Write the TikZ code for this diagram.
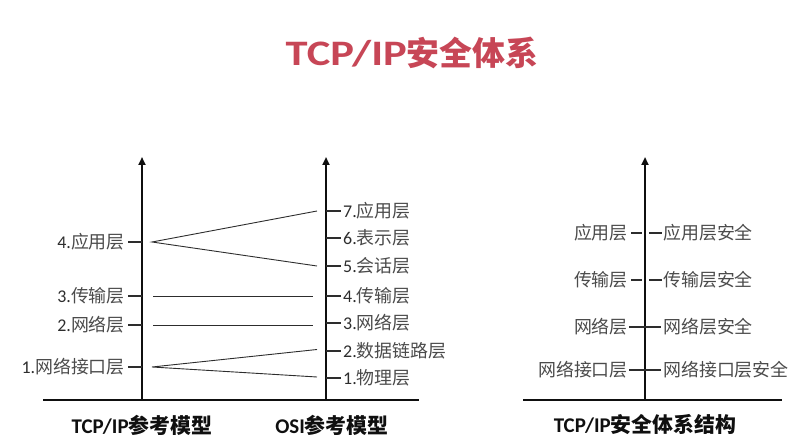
\documentclass[tikz,border=0pt]{standalone}
\usepackage{fontspec}
\usepackage{graphicx}
\setmainfont{Carlito}
\newfontfamily\cjk{Noto Sans CJK SC}
\usetikzlibrary{arrows.meta}
\definecolor{titlered}{RGB}{199,70,86}
\definecolor{txt}{RGB}{45,45,45}
\definecolor{cjktxt}{RGB}{75,75,75}
\definecolor{ax}{RGB}{15,15,15}
\newcommand{\cz}[1]{{\cjk\color{cjktxt}#1}}
\tikzset{
  axis/.style={line width=2.6bp, draw=ax, -{Triangle[length=8bp,width=7bp]}},
  baseln/.style={line width=2.6bp, draw=ax},
  tickln/.style={line width=1.3bp, draw=txt},
  linkln/.style={line width=0.9bp, draw=txt},
  lbl/.style={text=txt, font=\fontsize{18}{18}\selectfont, inner sep=0pt},
  captxt/.style={text=ax, font=\bfseries\fontsize{21}{21}\selectfont, inner sep=0pt},
  titletxt/.style={text=titlered, font=\bfseries\fontsize{36}{36}\selectfont, inner sep=0pt}
}
\begin{document}
\begin{tikzpicture}[x=1bp,y=-1bp]
\useasboundingbox (0,0) rectangle (809,438);
% title
\node[titletxt] (title) at (412,53) {\scalebox{1.24}[1]{TCP/IP}{\cjk\fontsize{33}{33}\selectfont 安全体系}};

% ---------- left diagram ----------
\coordinate (bl) at (43,400);
\coordinate (br) at (419,400);
\coordinate (lb) at (142,400);
\coordinate (lt) at (142,157);
\coordinate (rb) at (326,400);
\coordinate (rt) at (326,157);
\draw[baseln] (bl) -- (br);
\draw[axis] (lb) -- (lt);
\draw[axis] (rb) -- (rt);

% TCP/IP labels
\node[lbl, anchor=east] (t4) at (125,242) {4.\cz{应用层}};
\node[lbl, anchor=east] (t3) at (125,296) {3.\cz{传输层}};
\node[lbl, anchor=east] (t2) at (125,325) {2.\cz{网络层}};
\node[lbl, anchor=east] (t1) at (125,367) {1.\cz{网络接口层}};
\foreach \n/\y in {t4/242,t3/296,t2/325,t1/367}{
  \coordinate (\n a) at (142,\y);
  \draw[tickln] ([xshift=3bp]\n.east) -- (\n a);
}

% OSI labels
\node[lbl, anchor=west] (o7) at (343,211) {7.\cz{应用层}};
\node[lbl, anchor=west] (o6) at (343,238) {6.\cz{表示层}};
\node[lbl, anchor=west] (o5) at (343,266) {5.\cz{会话层}};
\node[lbl, anchor=west] (o4) at (343,296) {4.\cz{传输层}};
\node[lbl, anchor=west] (o3) at (343,323) {3.\cz{网络层}};
\node[lbl, anchor=west] (o2) at (343,351) {2.\cz{数据链路层}};
\node[lbl, anchor=west] (o1) at (343,378) {1.\cz{物理层}};
\foreach \n/\y in {o7/211,o6/238,o5/266,o4/296,o3/323,o2/351,o1/378}{
  \coordinate (\n a) at (326,\y);
  \draw[tickln] (\n a) -- ([xshift=-2bp]\n.west);
}

% mapping lines
\coordinate (p4) at (152,242);
\coordinate (q7) at (317,211);
\coordinate (q5) at (317,266);
\coordinate (p3) at (153,296);
\coordinate (q4) at (313,296);
\coordinate (p2) at (153,325);
\coordinate (q3) at (313,325);
\coordinate (p1) at (152,367);
\coordinate (q2) at (317,349.5);
\coordinate (q1) at (317,377);
\draw[linkln] (q7) -- (p4) -- (q5);
\draw[linkln] (p3) -- (q4);
\draw[linkln] (p2) -- (q3);
\draw[linkln] (q2) -- (p1) -- (q1);

\node[captxt] (c1) at (142,425) {TCP/IP{\cjk 参考模型}};
\node[captxt] (c2) at (332,425) {OSI{\cjk 参考模型}};

% ---------- right diagram ----------
\coordinate (sbl) at (523,400);
\coordinate (sbr) at (782,400);
\coordinate (sb) at (645,400);
\coordinate (st) at (645,157);
\draw[baseln] (sbl) -- (sbr);
\draw[axis] (sb) -- (st);

\node[lbl, anchor=east] (s4) at (628,233) {\cz{应用层}};
\node[lbl, anchor=east] (s3) at (628,280) {\cz{传输层}};
\node[lbl, anchor=east] (s2) at (628,327) {\cz{网络层}};
\node[lbl, anchor=east] (s1) at (628,370) {\cz{网络接口层}};
\node[lbl, anchor=west] (r4) at (663,233) {\cz{应用层安全}};
\node[lbl, anchor=west] (r3) at (663,280) {\cz{传输层安全}};
\node[lbl, anchor=west] (r2) at (663,327) {\cz{网络层安全}};
\node[lbl, anchor=west] (r1) at (663,370) {\cz{网络接口层安全}};

\coordinate (g4l) at (642,233);
\coordinate (g4r) at (649,233);
\coordinate (g3l) at (642,280);
\coordinate (g3r) at (649,280);
\draw[tickln] ([xshift=3bp]s4.east) -- (g4l);
\draw[tickln] (g4r) -- ([xshift=-1bp]r4.west);
\draw[tickln] ([xshift=3bp]s3.east) -- (g3l);
\draw[tickln] (g3r) -- ([xshift=-1bp]r3.west);
\draw[tickln] ([xshift=1bp]s2.east) -- ([xshift=-2bp]r2.west);
\draw[tickln] ([xshift=1bp]s1.east) -- ([xshift=-2bp]r1.west);

\node[captxt] (c3) at (645,425) {TCP/IP{\cjk 安全体系结构}};
\end{tikzpicture}
\end{document}
